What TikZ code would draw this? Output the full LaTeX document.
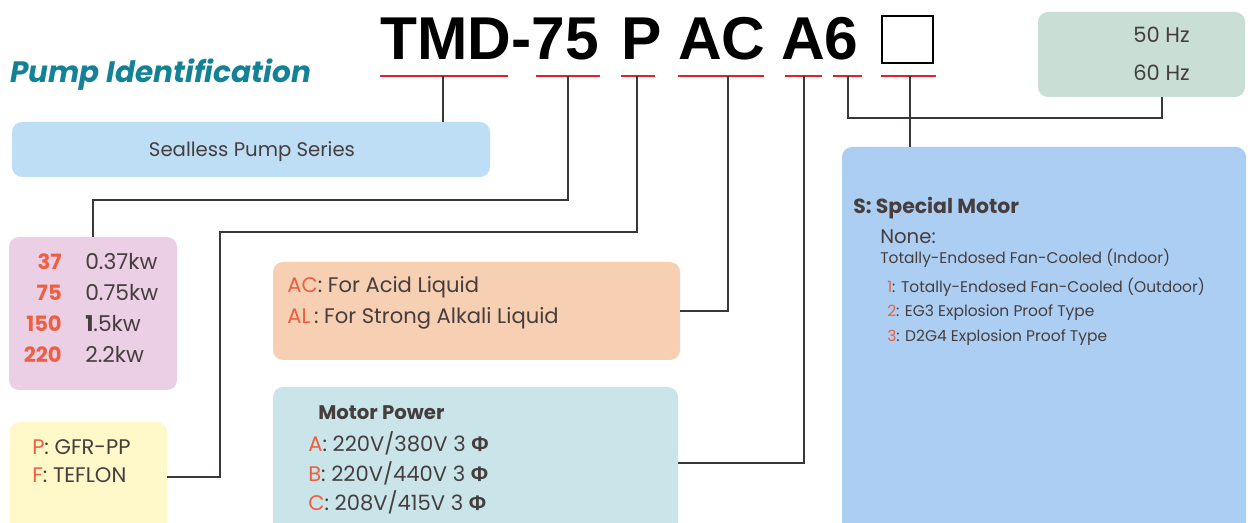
\documentclass[tikz,border=0pt]{standalone}
\usepackage{fontspec}
\setmainfont{Poppins}
\newfontfamily\codefont{Liberation Sans}
\usetikzlibrary{calc, fit, positioning}

\definecolor{titleteal}{RGB}{20,130,150}
\definecolor{codered}{RGB}{228,32,38}
\definecolor{tagred}{RGB}{238,95,65}
\definecolor{bodygray}{RGB}{70,62,62}
\definecolor{linkgray}{RGB}{60,55,55}
\definecolor{seriesblue}{RGB}{190,222,245}
\definecolor{powerpink}{RGB}{235,207,228}
\definecolor{matyellow}{RGB}{255,248,200}
\definecolor{liquidorange}{RGB}{247,207,178}
\definecolor{motorcyan}{RGB}{202,229,233}
\definecolor{hzgreen}{RGB}{201,223,213}
\definecolor{specialblue}{RGB}{172,206,242}

\begin{document}
\begin{tikzpicture}[x=0.025cm, y=-0.025cm,
  panel/.style={fill=#1, rounded corners=0.25cm, inner sep=0pt},
  uline/.style={draw=codered, line width=2pt},
  link/.style={draw=linkgray, line width=0.8pt},
  txt/.style={anchor=west, inner sep=0pt, text=bodygray, font=\fontsize{15}{18}\selectfont},
  small/.style={txt, font=\fontsize{11}{13}\selectfont},
  code/.style={anchor=base west, inner sep=0pt, font=\codefont\bfseries\fontsize{43}{50}\selectfont},
  tag/.style={text=tagred}]
\useasboundingbox (0,0) rectangle (1248,523);
\fill[white] (0,0) rectangle (1248,523);

% titulo y codigo del modelo
\node[anchor=base west, inner sep=0pt, text=titleteal,
  font=\bfseries\itshape\fontsize{21}{24}\selectfont] (title) at (10,83) {Pump Identification};
\node[code] (cmodel) at (380,60) {TMD-75};
\node[code] (cmat) at (621,60) {P};
\node[code] (cliq) at (678,60) {AC};
\node[code] (cmotor) at (781,60) {A6};
\node[draw, line width=1.6pt, inner sep=0pt, fit={(882,16) (933,63)}] (cslot) {};

% subrayados rojos con sus puntos de enlace
\foreach \a/\b/\t [count=\i] in {380/508/443, 536/600/568, 621/655/637, 678/764/728,
    785/822/804, 833/862/848, 881/936/910} {
  \draw[uline] (\a,76) -- (\b,76);
  \coordinate (t\i) at (\t,76);
}

% cajas
\node[panel=seriesblue, fit={(12,122) (490,177)}] (series) {};
\node[panel=powerpink, fit={(9,237) (177,390)}] (power) {};
\node[panel=matyellow, fit={(10,422) (167,532)}] (material) {};
\node[panel=liquidorange, fit={(273,262) (680,360)}] (liquid) {};
\node[panel=motorcyan, fit={(273,387) (678,539)}] (motor) {};
\node[panel=hzgreen, fit={(1038,12) (1245,97)}] (hz) {};
\node[panel=specialblue, fit={(842,147) (1246,539)}] (special) {};

% serie
\node[txt, anchor=center, font=\fontsize{14}{17}\selectfont] (seriestext) at (252,152) {Sealless Pump Series};

% potencia
\foreach \n/\v [count=\i] in {37/0.37kw, 75/0.75kw, 150/{\textbf{1}.5kw}, 220/2.2kw} {
  \node[txt, anchor=east, tag, font=\bfseries\fontsize{15}{18}\selectfont] (pn\i) at (62,231+31*\i) {\n};
  \node[txt, font=\fontsize{15.5}{18}\selectfont] (pv\i) at (85,231+31*\i) {\v};
}

% material
\node[txt] (mat1) at (32,447) {\textcolor{tagred}{P}: GFR-PP};
\node[txt] (mat2) at (32,475) {\textcolor{tagred}{F}: TEFLON};

% liquido
\node[txt] (liq1) at (287,287) {\textcolor{tagred}{AC}: For Acid Liquid};
\node[txt] (liq2) at (287,318) {\textcolor{tagred}{AL}\,: For Strong Alkali Liquid};

% motor
\node[txt, font=\bfseries\fontsize{14}{17}\selectfont] (mot0) at (318,413) {Motor Power};
\node[txt] (mot1) at (308,443) {\textcolor{tagred}{A}: 220V/380V 3 {\codefont\bfseries Φ}};
\node[txt] (mot2) at (308,473) {\textcolor{tagred}{B}: 220V/440V 3 {\codefont\bfseries Φ}};
\node[txt] (mot3) at (308,502) {\textcolor{tagred}{C}: 208V/415V 3 {\codefont\bfseries Φ}};

% frecuencia
\node[txt] (hz1) at (1133,35) {50 Hz};
\node[txt] (hz2) at (1133,73) {60 Hz};

% motor especial
\node[txt, font=\bfseries\fontsize{14.5}{17}\selectfont] (sp0) at (853,208) {S: Special Motor};
\node[txt, font=\fontsize{14}{17}\selectfont] (sp1) at (880,237) {None:};
\node[small] (sp2) at (880,258) {Totally-Endosed Fan-Cooled (Indoor)};
\node[small] (sp3) at (887,287) {\textcolor{tagred}{1}: Totally-Endosed Fan-Cooled (Outdoor)};
\node[small] (sp4) at (887,313) {\textcolor{tagred}{2}: EG3 Explosion Proof Type};
\node[small] (sp5) at (887,338) {\textcolor{tagred}{3}: D2G4 Explosion Proof Type};

% enlaces
\coordinate (k2) at (93,200);
\coordinate (k3) at (220,232);
\coordinate (k6) at (1162,118);
\draw[link] (t1) -- (t1 |- series.north);
\draw[link] (t2) |- (k2) -- (power.north);
\draw[link] (t3) |- (k3) |- (material.east);
\draw[link] (t4) |- (liquid.east);
\draw[link] (t5) |- (motor.east);
\draw[link] (t6) |- (k6) -- (k6 |- hz.south);
\draw[link] (t7) -- (t7 |- special.north);
\end{tikzpicture}
\end{document}
